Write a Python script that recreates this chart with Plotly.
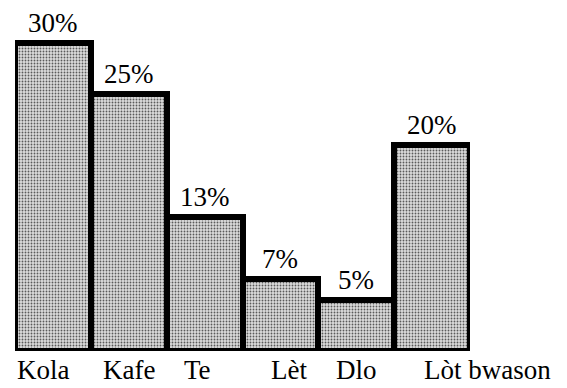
import plotly.graph_objects as go

# Share of drinks consumed (percent)
categories = ["Kola", "Kafe", "Te", "Lèt", "Dlo", "Lòt bwason"]
values = [30, 25, 13, 7, 5, 20]
value_labels = [f"{v}%" for v in values]

SERIF = "Liberation Serif, Times New Roman, serif"
FONT_SIZE = 27

fig = go.Figure(
    go.Bar(
        x=categories,
        y=values,
        cliponaxis=False,
        marker=dict(
            color="#c4c4c4",
            line=dict(color="black", width=6),
            pattern=dict(shape=".", size=3, solidity=0.3,
                         fgcolor="#5a5a5a", bgcolor="#dcdcdc",
                         fillmode="replace"),
        ),
        width=1.0,
        showlegend=False,
    )
)

# Percentage labels above each bar
for cat, v, lab in zip(categories, values, value_labels):
    fig.add_annotation(
        x=cat, y=v, xref="x", yref="y",
        text=lab, showarrow=False,
        xanchor="center", yanchor="bottom", yshift=3,
        font=dict(family=SERIF, size=FONT_SIZE, color="black"),
    )

# Category names drawn under the bars; the long last name sits to the right
label_shift = {"Kola": -9, "Te": -7, "Lèt": 9, "Lòt bwason": 55}
for cat in categories:
    fig.add_annotation(
        x=cat, y=0, yref="y", xref="x",
        text=cat, showarrow=False,
        xanchor="center", yanchor="top",
        xshift=label_shift.get(cat, 0), yshift=-2,
        font=dict(family=SERIF, size=FONT_SIZE, color="black"),
    )

fig.update_layout(
    width=567, height=388,
    margin=dict(l=15, r=97, t=20, b=37),
    paper_bgcolor="white", plot_bgcolor="white",
    bargap=0,
    xaxis=dict(visible=False, range=[-0.5, 5.5]),
    yaxis=dict(visible=False, range=[0, 32.2]),
)

fig.write_html("out.html")
